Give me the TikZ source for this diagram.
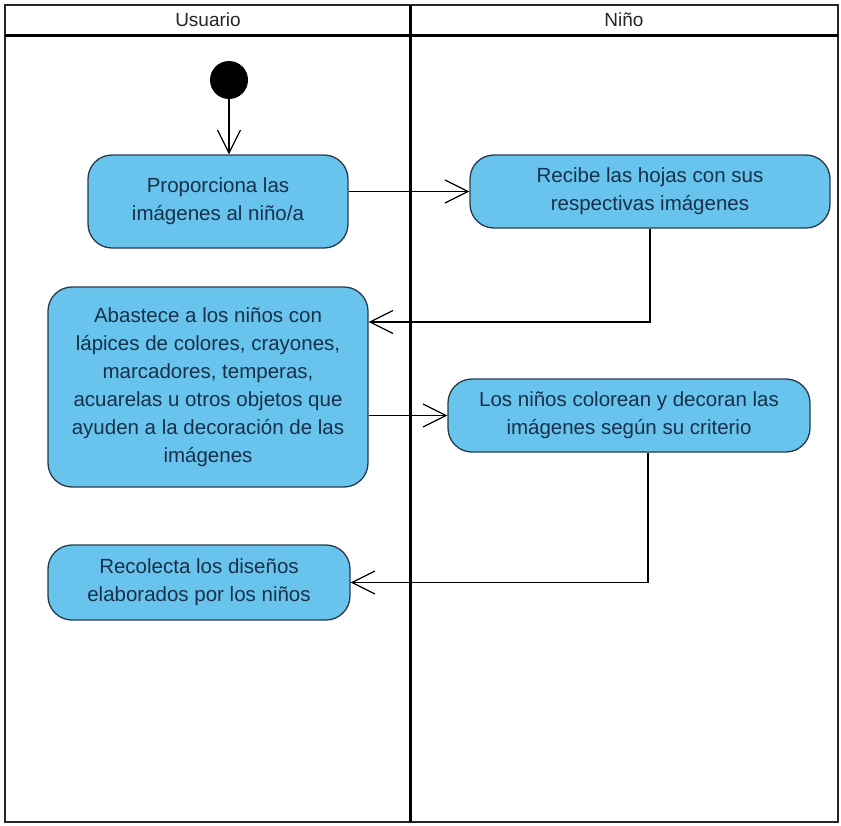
\documentclass[tikz,border=0pt]{standalone}
\usepackage{fontspec}
\setmainfont{Liberation Sans}
\usetikzlibrary{positioning,calc,arrows.meta}

\definecolor{actfill}{RGB}{104,196,236}
\definecolor{actdraw}{RGB}{40,58,74}
\definecolor{acttext}{RGB}{24,48,74}

\begin{document}
\begin{tikzpicture}[x=1pt,y=-1pt]
        \tikzstyle{act}=[rectangle, rounded corners=24pt, draw=actdraw, line width=1.3pt, fill=actfill,
                text=acttext, align=center, inner sep=0pt,
                font=\fontsize{20.5}{28}\selectfont]
        \tikzstyle{flow}=[line width=1.2pt, -{Straight Barb[length=23pt,width=23pt,line width=1.2pt]}]
        \tikzstyle{lane}=[line width=1.6pt, black!85]
        \tikzstyle{lanehead}=[font=\fontsize{19}{22}\selectfont, text=black!85]

        \useasboundingbox (0,0) rectangle (841,825);

        % swimlanes
        \draw[lane] (5,5) rectangle (838,822);
        \draw[line width=3pt] (5,35) -- (838,35);
        \draw[line width=3pt] (410,5) -- (410,822);
        \node[lanehead] (usuario) at (208,20) {Usuario};
        \node[lanehead] (nino) at (624,20) {Niño};

        % actions
        \node[circle, fill=black, minimum size=38pt, inner sep=0pt] (start) at (229,80) {};
        \node[act, minimum width=260pt, minimum height=93pt] (a1) at (218,201.5)
                {Proporciona las\\imágenes al niño/a};
        \node[act, minimum width=360pt, minimum height=73pt] (a2) at (650,191.5)
                {Recibe las hojas con sus\\respectivas imágenes};
        \node[act, minimum width=320pt, minimum height=200pt] (a3) at (208,387)
                {Abastece a los niños con\\lápices de colores, crayones,\\marcadores, temperas,\\acuarelas u otros objetos que\\ayuden a la decoración de las\\imágenes};
        \node[act, minimum width=362pt, minimum height=73pt] (a4) at (629,415.5)
                {Los niños colorean y decoran las\\imágenes según su criterio};
        \node[act, minimum width=302pt, minimum height=75pt] (a5) at (199,582.5)
                {Recolecta los diseños\\elaborados por los niños};

        \coordinate (k1) at (0,322);

        % flows
        \draw[flow] (start) -- (start |- a1.north);
        \draw[flow] (a1.east |- a2.west) -- (a2.west);
        \draw[flow] (a2.south) |- (a3.east |- k1);
        \draw[flow] (a3.east |- a4.west) -- (a4.west);
        \draw[flow] ([xshift=19pt]a4.south) |- (a5.east);
\end{tikzpicture}
\end{document}
